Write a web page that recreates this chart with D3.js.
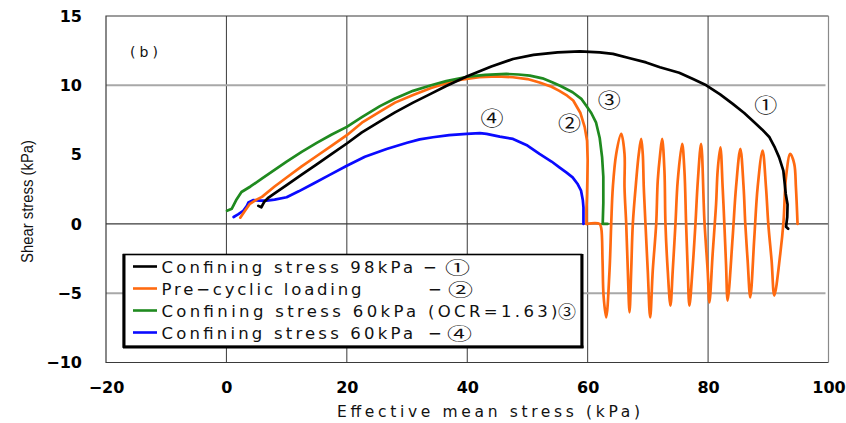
<!DOCTYPE html>
<html>
<head>
<meta charset="utf-8">
<script src="https://cdn.jsdelivr.net/npm/d3@7"></script>
<style>
  body { margin: 0; background: #fff; }
  svg { display: block; }
</style>
</head>
<body>
<svg id="chart" width="846" height="423"></svg>
<script>
// Axis ticks
const xTicks = [-20, 0, 20, 40, 60, 80, 100];
const yTicks = [-10, -5, 0, 5, 10, 15];

// Stress paths: [effective mean stress p' (kPa), shear stress q (kPa)]
const path98 = [
  [5.3,1.3],[5.8,1.2],[6.3,1.6],[7,1.9],[8,2.2],[10,2.8],[12.5,3.55],[15,4.3],[17.5,5.05],
  [20,5.8],[22.5,6.6],[25.5,7.4],[28,8.05],[31,8.75],[34,9.4],[36.5,9.95],[40,10.65],
  [44,11.35],[47.6,11.9],[51,12.2],[55,12.38],[58.7,12.45],[62,12.38],[64.2,12.27],
  [67,11.95],[69.7,11.65],[72,11.3],[75.2,10.9],[77.5,10.45],[79.7,10.0],[82,9.35],
  [84.1,8.66],[86,8.0],[87.4,7.45],[89,6.8],[90.2,6.25],[91.1,5.5],[91.8,4.8],[92.5,3.85],
  [92.9,2.16],[93.2,1.4],[93.15,0.5],[92.95,-0.2],[93.3,-0.35]
];

const pathPreLoading = [
  [2.3,0.45],[3.0,0.9],[3.9,1.45],[5.0,1.75],[5.9,1.95],[8,2.7],[10,3.35],[12.5,4.15],
  [15,4.9],[17.5,5.65],[20,6.4],[22.5,7.3],[25.5,8.1],[28,8.75],[31,9.3],[34,9.8],
  [36.5,10.15],[39,10.4],[42,10.58],[45,10.65],[47.6,10.58],[50,10.45],[52,10.2],[54,9.9],
  [55.3,9.6],[56.6,9.25],[57.6,8.9],[58.8,8.0],[59.5,7.0],[59.9,6.0],[60.0,4.6],
  [59.95,3.2],[59.9,2.2],[59.8,1.0],[59.8,0]
];

const pathCyclic = [
  [59.8,0],[61.97,0],[62.25,-0.3],[62.47,-2.65],[62.64,-5.17],[63.08,-6.74],
  [63.63,-3.37],[63.91,0],[64.18,2.64],[64.74,5.05],[65.57,6.49],
  [66.12,5.05],[66.12,2.64],[66.40,0],[66.67,-3.37],[66.95,-6.38],
  [67.23,-3.37],[67.50,0],[68.06,3.12],[68.49,5.05],[68.89,6.13],
  [69.15,5.05],[69.32,2.64],[69.60,0],[69.98,-3.37],[70.38,-6.74],
  [70.81,-3.37],[71.38,0],[71.64,3.12],[72.04,5.05],[72.37,6.13],
  [72.75,3.85],[72.92,0],[73.30,-3.37],[73.75,-5.89],
  [74.13,-3.37],[74.58,0],[74.96,3.12],[75.69,5.77],
  [76.07,3.85],[76.35,0],[76.62,-3.37],[76.90,-5.89],
  [77.4,-3.37],[77.9,0],[78.3,3.12],[78.84,5.77],
  [79.39,0.24],[79.93,-3.37],[80.22,-5.66],
  [80.76,-2.16],[81.33,1.44],[81.59,3.85],[82.04,5.53],
  [82.42,2.64],[82.70,0],[82.98,-2.89],[83.25,-5.53],
  [84.08,-0.97],[84.64,2.64],[85.36,5.41],
  [85.90,2.64],[86.18,0],[86.57,-2.65],[87.01,-5.30],
  [87.68,-0.97],[88.23,2.64],[89.05,5.29],
  [89.62,2.64],[90.00,0],[90.55,-2.65],[91.00,-5.17],
  [91.99,-2.16],[92.54,0.24],[92.94,3.36],[93.65,5.05],
  [94.31,4.33],[94.59,2.64],[94.86,0]
];

const path60OCR = [
  [0.1,0.95],[0.9,1.1],[1.6,1.7],[2.5,2.3],[4,2.7],[6,3.3],[8,3.9],[10,4.5],[12.5,5.2],
  [15,5.85],[17.5,6.45],[20,7.0],[22.5,7.7],[25.5,8.5],[28,9.05],[31,9.6],[34,10.0],
  [36.5,10.3],[40,10.62],[43,10.75],[46.5,10.82],[48.5,10.78],[50.4,10.7],[52.5,10.5],
  [54.2,10.2],[55.5,9.95],[57.5,9.5],[59,9.0],[59.8,8.5],[60.6,8.0],[61.4,7.3],
  [62.0,6.2],[62.4,4.8],[62.6,3.4],[62.6,1.5],[62.5,0],[63.3,0]
];

const path60 = [
  [1.2,0.5],[2.0,0.7],[2.8,0.95],[3.4,1.3],[3.65,1.55],[4.5,1.72],[5.5,1.68],[6.7,1.68],
  [8,1.75],[10,1.92],[12,2.35],[14.4,2.9],[17,3.5],[20,4.2],[23,4.85],[26.6,5.4],
  [30,5.85],[32.1,6.1],[34.3,6.25],[37,6.4],[39.9,6.5],[42.1,6.55],[43.2,6.5],[45.4,6.3],
  [47.6,6.13],[50,5.65],[52,5.05],[54,4.5],[55.3,4.08],[56.5,3.7],[57.5,3.36],[58.3,2.9],
  [58.9,2.4],[59.2,1.7],[59.3,1.2],[59.3,0]
];

// Circled path numbers placed next to each path
const pathMarks = [
  { text: "①", p: 89.6, q: 8.6 },
  { text: "②", p: 57.0, q: 7.3 },
  { text: "③", p: 63.6, q: 8.95 },
  { text: "④", p: 44.1, q: 7.65 }
];

// Legend entries
const legendNames = [
  "Confining stress 98kPa",
  "Pre−cyclic loading",
  "Confining stress 60kPa (OCR=1.63)",
  "Confining stress 60kPa"
];
const legendDash = [true, true, false, true];
const legendMarks = ["①", "②", "③", "④"];
const legendColors = ["#000000", "#ff6a10", "#1f8a1f", "#0a0aff"];

const svg = d3.select("#chart");
const plotL = 106, plotR = 828.5, plotT = 16, plotB = 362.5;

const x = d3.scaleLinear().domain([-20, 100]).range([plotL, plotR]);
const y = d3.scaleLinear().domain([-10, 15]).range([plotB, plotT]);

// Grid
const grid = svg.append("g");
grid.selectAll("line.v").data([0, 20, 40, 60, 80]).join("line")
  .attr("x1", d => x(d)).attr("x2", d => x(d))
  .attr("y1", plotT).attr("y2", plotB)
  .attr("stroke", "#3a3a3a").attr("stroke-width", 1);
grid.selectAll("line.hg").data([10, -5]).join("line")
  .attr("x1", plotL).attr("x2", plotR - 3)
  .attr("y1", d => y(d)).attr("y2", d => y(d))
  .attr("stroke", "#a8a8a8").attr("stroke-width", 2);
grid.append("line")
  .attr("x1", plotL).attr("x2", plotR)
  .attr("y1", y(0)).attr("y2", y(0))
  .attr("stroke", "#3a3a3a").attr("stroke-width", 1.3);

// Plot frame
svg.append("path")
  .attr("d", `M${plotR},${plotT} H${plotL} V${plotB} H${plotR}`)
  .attr("fill", "none").attr("stroke", "#3a3a3a").attr("stroke-width", 1.2);
svg.append("line")
  .attr("x1", plotR).attr("x2", plotR).attr("y1", plotT).attr("y2", plotB)
  .attr("stroke", "#8a8a8a").attr("stroke-width", 1.2);

// Axes (labels only)
const tickFont = "'DejaVu Sans', sans-serif";
const xAxis = svg.append("g")
  .attr("transform", `translate(0,${plotB})`)
  .call(d3.axisBottom(x).tickValues(xTicks).tickSize(0).tickPadding(19));
const yAxis = svg.append("g")
  .attr("transform", `translate(${plotL},0)`)
  .call(d3.axisLeft(y).tickValues(yTicks).tickSize(0).tickPadding(24));
[xAxis, yAxis].forEach(a => {
  a.select(".domain").remove();
  a.selectAll("text")
    .attr("font-family", tickFont)
    .attr("font-weight", "bold")
    .attr("font-size", 16)
    .attr("fill", "#000");
});

// Axis titles
svg.append("text")
  .attr("x", 337).attr("y", 416.5)
  .attr("textLength", 303).attr("lengthAdjust", "spacing")
  .attr("font-family", "'DejaVu Sans', sans-serif").attr("font-size", 15.5)
  .attr("fill", "#111")
  .text("Effective mean stress (kPa)");

svg.append("text")
  .attr("transform", "translate(33,263) rotate(-90)")
  .attr("x", 0).attr("y", 0)
  .attr("textLength", 123).attr("lengthAdjust", "spacingAndGlyphs")
  .attr("font-family", "'Liberation Sans', Arial, sans-serif").attr("font-size", 17)
  .attr("fill", "#111")
  .text("Shear stress (kPa)");

// Panel label
svg.append("text")
  .attr("x", 130).attr("y", 57)
  .attr("textLength", 28).attr("lengthAdjust", "spacing")
  .attr("font-family", "'DejaVu Sans', sans-serif").attr("font-size", 14)
  .attr("fill", "#111")
  .text("(b)");

// Stress paths
const lineStraight = d3.line().x(d => x(d[0])).y(d => y(d[1])).curve(d3.curveLinear);
const lineRounded = d3.line().x(d => x(d[0])).y(d => y(d[1])).curve(d3.curveCatmullRom.alpha(0.5));
const paths = [
  { data: path60, color: "#0a0aff", gen: lineStraight },
  { data: pathPreLoading, color: "#ff6a10", gen: lineStraight },
  { data: pathCyclic, color: "#ff6a10", gen: lineRounded },
  { data: path60OCR, color: "#1f8a1f", gen: lineStraight },
  { data: path98, color: "#000000", gen: lineStraight }
];
svg.append("g").selectAll("path").data(paths).join("path")
  .attr("d", d => d.gen(d.data))
  .attr("fill", "none")
  .attr("stroke", d => d.color)
  .attr("stroke-width", 2.7)
  .attr("stroke-linejoin", "round")
  .attr("stroke-linecap", "round");

// Circled numbers on the plot
svg.append("g").selectAll("text").data(pathMarks).join("text")
  .attr("x", d => x(d.p) - 11.5).attr("y", d => y(d.q))
  .attr("dominant-baseline", "central")
  .attr("textLength", 23).attr("lengthAdjust", "spacingAndGlyphs")
  .attr("font-family", "'Noto Sans CJK JP', sans-serif")
  .attr("font-size", 20).attr("fill", "#111")
  .text(d => d.text);

// Legend box with heavy left, right and bottom edges
const lg = svg.append("g");
lg.append("rect")
  .attr("x", 123.5).attr("y", 254.5).attr("width", 458).attr("height", 92)
  .attr("fill", "#fff").attr("stroke", "#000").attr("stroke-width", 1.6);
lg.append("line").attr("x1", 124).attr("x2", 124).attr("y1", 254).attr("y2", 348)
  .attr("stroke", "#000").attr("stroke-width", 3);
lg.append("line").attr("x1", 582).attr("x2", 582).attr("y1", 254).attr("y2", 348)
  .attr("stroke", "#000").attr("stroke-width", 3);
lg.append("line").attr("x1", 123).attr("x2", 583.5).attr("y1", 347).attr("y2", 347)
  .attr("stroke", "#000").attr("stroke-width", 3);

const legendFont = "'DejaVu Sans', sans-serif";
const markFont = "'Noto Sans CJK JP', sans-serif";
const rowY = [273, 295, 317, 339];
const nameLen = [251.5, 200, 396, 251.5];
const dashX = [423, 428, 0, 428];
const markX = [445, 448, 558, 447];
legendNames.forEach((name, i) => {
  const yy = rowY[i];
  lg.append("line")
    .attr("x1", 133).attr("x2", 157).attr("y1", yy - 6.5).attr("y2", yy - 6.5)
    .attr("stroke", legendColors[i]).attr("stroke-width", 2.6);
  lg.append("text")
    .attr("x", 161.5).attr("y", yy)
    .attr("textLength", nameLen[i]).attr("lengthAdjust", "spacing")
    .attr("font-family", legendFont)
    .attr("font-size", 16.5).attr("fill", "#111")
    .text(name);
  if (legendDash[i]) {
    lg.append("text")
      .attr("x", dashX[i]).attr("y", yy)
      .attr("font-family", legendFont)
      .attr("font-size", 16.5).attr("fill", "#111")
      .text("−");
  }
  lg.append("text")
    .attr("x", markX[i]).attr("y", yy + 1)
    .attr("textLength", i === 2 ? 18 : 25).attr("lengthAdjust", "spacingAndGlyphs")
    .attr("font-family", markFont)
    .attr("font-size", 17).attr("fill", "#111")
    .text(legendMarks[i]);
});
</script>
</body>
</html>
